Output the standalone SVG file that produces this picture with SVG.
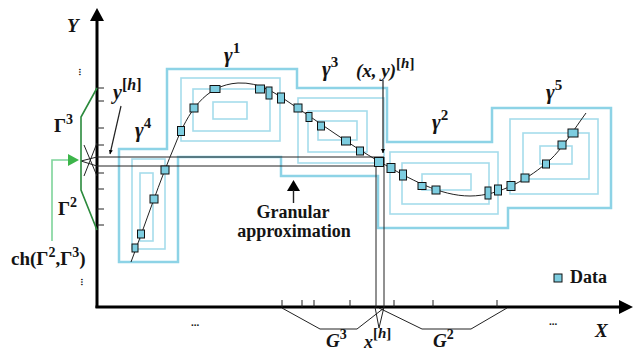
<svg xmlns="http://www.w3.org/2000/svg" width="636" height="351" viewBox="0 0 636 351">
<defs>
<style>
.ax{stroke:#000;stroke-width:3;fill:none}
.tk{stroke:#222;stroke-width:1;fill:none}
.thin{stroke:#222;stroke-width:1;fill:none}
.out{stroke:#8dd3e6;stroke-width:2.5;fill:none}
.in{stroke:#a6dcec;stroke-width:1.6;fill:none}
.d{fill:#7dcde0;stroke:#111;stroke-width:1}
.t{font-family:"Liberation Serif","Times New Roman",serif;font-weight:bold;fill:#141414}
.i{font-style:italic}
.n{font-style:normal}
.gr{stroke:#2b8a3c;stroke-width:1.6;fill:none}
.lg{stroke:#7ed49a;stroke-width:1.6;fill:none}
</style>
<marker id="ah" viewBox="0 0 10 10" refX="10" refY="5" markerWidth="4" markerHeight="4" orient="auto-start-reverse" markerUnits="userSpaceOnUse">
<path d="M0,0 L10,5 L0,10 z" fill="#000"/>
</marker>
</defs>

<g id="granules">
<path class="out" d="M119,149 H167 V69 H297 V88 H387 V142 H492 V108 H611 V208 H508 V228 H378 V176 H281 V157 H178 V262 H119 Z"/>
<g id="g4">
<rect class="in" x="132" y="159" width="33" height="90"/>
<rect class="in" x="140" y="173" width="13" height="68"/>
</g>
<g id="g1">
<rect class="in" x="181" y="78" width="99" height="63"/>
<rect class="in" x="193" y="89" width="77" height="42"/>
<rect class="in" x="213" y="102" width="34" height="17"/>
</g>
<g id="g3">
<rect class="in" x="298" y="98" width="86" height="65"/>
<rect class="in" x="308" y="111" width="59" height="41"/>
<rect class="in" x="318" y="121" width="39" height="19"/>
</g>
<g id="g2">
<rect class="in" x="390" y="152" width="108" height="62"/>
<rect class="in" x="402" y="163" width="87" height="41"/>
<rect class="in" x="422" y="174" width="49" height="16"/>
</g>
<g id="g5">
<rect class="in" x="510" y="119" width="88" height="75"/>
<rect class="in" x="523" y="133" width="66" height="46"/>
<rect class="in" x="540" y="146" width="32" height="18"/>
</g>
</g>

<g id="axes">
<line class="ax" x1="97" y1="20" x2="97" y2="308"/>
<path d="M90,21 L97,8 L104,21 Z" fill="#000"/>
<line class="ax" x1="95.5" y1="307" x2="620" y2="307"/>
<path d="M619,300 L633,307 L619,314 Z" fill="#000"/>
<path class="tk" d="M97,88 H104 M97,101 H104 M97,128 H104 M97,145 H104 M97,173 H104 M97,189 H104 M97,209 H104 M97,225 H104"/>
<path class="tk" d="M282,307 V300 M302,307 V300 M314,307 V300 M350,307 V300 M394,307 V300 M433,307 V300 M497,307 V300"/>
</g>

<g id="connectors">
<path class="thin" d="M97,157 H384 V307 M97,166 H376 V307"/>
<path class="thin" d="M81,161 L97,157 M81,161 L97,166 M84,145 L97,176 M84,176 L97,143"/>
<path class="thin" d="M375,307 L379,328 L384,307"/>
<path class="thin" d="M282,308 L320,329 H357 L384,308 M379,308 L422,329 H471 L507,308"/>
<line class="thin" x1="383" y1="80" x2="383" y2="153" marker-end="url(#ah)" style="stroke-width:1.2"/>
<line class="thin" x1="121" y1="106" x2="110" y2="154" marker-end="url(#ah)" style="stroke-width:1.2"/>
<path d="M287,191 L293.5,180 L300,191 Z" fill="#000"/>
<line class="thin" x1="293.5" y1="190" x2="293.5" y2="203" style="stroke-width:1.4"/>
<path class="gr" d="M97,88 L81,117 V190 L97,230"/>
<path class="lg" d="M52,241 V160 H69"/>
<path d="M68,154 L79,160 L68,166 Z" fill="#3cb54a"/>
</g>

<g id="curve">
<path fill="none" stroke="#222" stroke-width="1" d="M131,262 C145,225 160,180 175,145 C188,112 205,85 238,83 C260,82 275,93 290,103 C320,123 350,145 380,162 C410,179 440,196 470,196 C500,196 530,178 550,160 C562,149 575,128 586,113"/>
</g>

<g id="data">
<rect class="d" x="132" y="244" width="6" height="8"/>
<rect class="d" x="137.5" y="230" width="7" height="8"/>
<rect class="d" x="150" y="195" width="8" height="8"/>
<rect class="d" x="161" y="166" width="8" height="8"/>
<rect class="d" x="177.5" y="126.5" width="7" height="9"/>
<rect class="d" x="190" y="104" width="8" height="8"/>
<rect class="d" x="210" y="85.5" width="10" height="7"/>
<rect class="d" x="255.5" y="85" width="9" height="8"/>
<rect class="d" x="266" y="87" width="6" height="12"/>
<rect class="d" x="277.5" y="93" width="7" height="10"/>
<rect class="d" x="294" y="104" width="8" height="8"/>
<rect class="d" x="306" y="112.5" width="6" height="9"/>
<rect class="d" x="317.5" y="122" width="7" height="8"/>
<rect class="d" x="341.5" y="137" width="9" height="8"/>
<rect class="d" x="356.5" y="147" width="7" height="8"/>
<rect class="d" x="374.5" y="157.5" width="9" height="9"/>
<rect class="d" x="387" y="163.5" width="8" height="9"/>
<rect class="d" x="399.5" y="170" width="7" height="10"/>
<rect class="d" x="418" y="182.5" width="8" height="7"/>
<rect class="d" x="432" y="186" width="8" height="8"/>
<rect class="d" x="485" y="187" width="6" height="12"/>
<rect class="d" x="494.5" y="185" width="7" height="10"/>
<rect class="d" x="507" y="181.5" width="8" height="9"/>
<rect class="d" x="521" y="174" width="8" height="8"/>
<rect class="d" x="542.5" y="160" width="7" height="8"/>
<rect class="d" x="558" y="141" width="8" height="8"/>
<rect class="d" x="568" y="129" width="10" height="8"/>
</g>

<g id="labels">
<text class="t i" x="67" y="32" font-size="19">Y</text>
<text class="t i" x="595" y="337" font-size="19">X</text>
<text class="t i" x="224" y="62" font-size="21">γ<tspan class="n" font-size="15" dy="-9">1</tspan></text>
<text class="t i" x="322" y="76" font-size="21">γ<tspan class="n" font-size="15" dy="-9">3</tspan></text>
<text class="t i" x="432" y="129" font-size="21">γ<tspan class="n" font-size="15" dy="-9">2</tspan></text>
<text class="t i" x="546" y="99" font-size="21">γ<tspan class="n" font-size="15" dy="-9">5</tspan></text>
<text class="t i" x="135" y="137" font-size="21">γ<tspan class="n" font-size="15" dy="-9">4</tspan></text>
<text class="t i" x="356" y="77" font-size="19">(x, y)<tspan font-size="15" dy="-9"><tspan class="n">[</tspan>h<tspan class="n">]</tspan></tspan></text>
<text class="t i" x="113" y="99" font-size="20">y<tspan font-size="16" dy="-9"><tspan class="n">[</tspan>h<tspan class="n">]</tspan></tspan></text>
<text class="t" x="54" y="132" font-size="19">Γ<tspan font-size="14" dy="-8">3</tspan></text>
<text class="t" x="58" y="215" font-size="19">Γ<tspan font-size="14" dy="-8">2</tspan></text>
<text class="t" x="11" y="265" font-size="19">ch(Γ<tspan font-size="14" dy="-8">2</tspan><tspan dy="8">,Γ</tspan><tspan font-size="14" dy="-8">3</tspan><tspan dy="8">)</tspan></text>
<text class="t i" x="326" y="347" font-size="19">G<tspan class="n" font-size="14" dy="-8">3</tspan></text>
<text class="t i" x="433" y="347" font-size="19">G<tspan class="n" font-size="14" dy="-8">2</tspan></text>
<text class="t i" x="364" y="348" font-size="18">x<tspan font-size="15" dy="-10"><tspan class="n">[</tspan>h<tspan class="n">]</tspan></tspan></text>
<text class="t" x="293" y="218" font-size="18" text-anchor="middle">Granular</text>
<text class="t" x="294" y="237" font-size="18" text-anchor="middle">approximation</text>
<text class="t" x="83" y="76" font-size="10" text-anchor="middle" transform="rotate(90 83 72)">...</text>
<text class="t" x="85" y="286" font-size="10" text-anchor="middle" transform="rotate(90 85 282)">...</text>
<text class="t" x="195" y="326" font-size="11" text-anchor="middle">...</text>
<text class="t" x="553" y="325" font-size="11" text-anchor="middle">...</text>
</g>

<g id="legend">
<rect class="d" x="554" y="274" width="8" height="8"/>
<text class="t" x="570" y="283" font-size="18">Data</text>
</g>
</svg>
